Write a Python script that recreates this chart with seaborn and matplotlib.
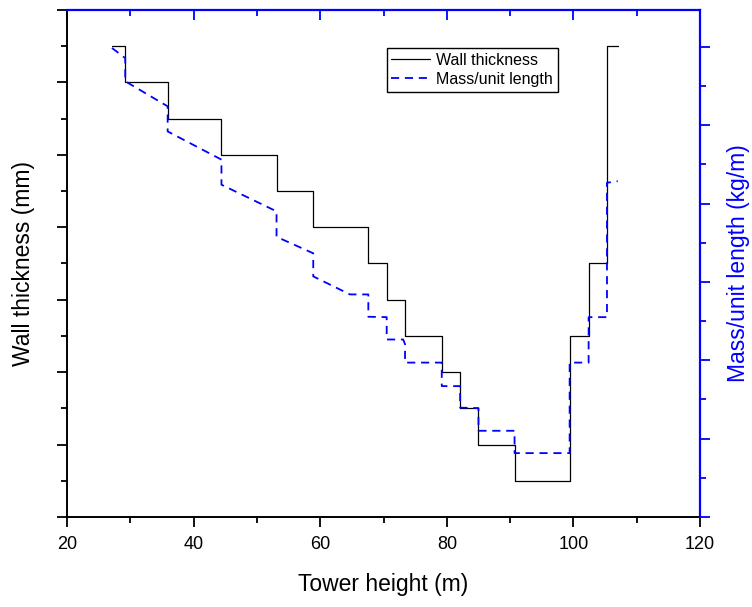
import matplotlib
matplotlib.use('Agg')
import matplotlib.pyplot as plt
from matplotlib.ticker import MultipleLocator, NullFormatter
import seaborn as sns
import pandas as pd

# section boundaries along the tower (m) and wall thickness of each section (mm)
section_edges = [27.1, 29.2, 35.9, 44.4, 53.1, 58.9, 67.6, 70.5, 73.4, 79.2,
                 82.1, 85.0, 90.7, 99.4, 102.4, 105.3, 107.0]
wall_thickness = [34, 32, 30, 28, 26, 24, 22, 20, 18, 16, 14, 12, 10, 18, 22, 34]

# mass per unit length along the tower (kg/m)
mass_height = [27.1, 29.2, 29.2, 35.9, 35.9, 44.4, 44.4, 53.1, 53.1, 58.9,
               58.9, 64.7, 67.6, 67.6, 70.5, 70.5, 73.1, 73.4, 73.4, 79.2,
               79.2, 82.1, 82.1, 85.0, 85.0, 90.7, 90.7, 99.4, 99.4, 102.4,
               102.4, 105.3, 105.3, 107.0]
mass_length = [1597, 1571, 1512, 1448, 1384, 1312, 1248, 1180, 1115, 1073,
               1014, 968, 968, 911, 910, 853, 853, 841, 794, 794,
               734, 734, 679, 678, 620, 620, 563, 563, 794, 794,
               910, 910, 1253, 1257]

sns.set_style('white')
plt.rcParams['font.family'] = ['Liberation Sans', 'DejaVu Sans']
plt.rcParams['text.color'] = 'black'
plt.rcParams['axes.labelcolor'] = 'black'
plt.rcParams['xtick.color'] = 'black'
plt.rcParams['ytick.color'] = 'black'

wall_df = pd.DataFrame({'height': section_edges,
                        'thickness': wall_thickness + [wall_thickness[-1]]})
mass_df = pd.DataFrame({'height': mass_height, 'mass': mass_length})

fig = plt.figure(figsize=(7.52, 6.07), dpi=100)
ax = fig.add_axes([0.0891, 0.1483, 0.8418, 0.8353])
ax2 = ax.twinx()

sns.lineplot(data=wall_df, x='height', y='thickness', ax=ax,
             drawstyle='steps-post', estimator=None, sort=False,
             color='black', linewidth=0.9)
sns.lineplot(data=mass_df, x='height', y='mass', ax=ax2,
             estimator=None, sort=False, color='#0000FF', linewidth=1.3)
ax2.lines[0].set_dashes((4.5, 3.2))

# x axis
ax.set_xlim(20, 120)
ax.xaxis.set_major_locator(MultipleLocator(20))
ax.xaxis.set_minor_locator(MultipleLocator(10))
ax.set_xlabel('Tower height (m)', fontsize=16.5, labelpad=14)

# left axis (no tick labels)
ax.set_ylim(8, 36)
ax.yaxis.set_major_locator(MultipleLocator(4))
ax.yaxis.set_minor_locator(MultipleLocator(2))
ax.yaxis.set_major_formatter(NullFormatter())
ax.set_ylabel('Wall thickness (mm)', fontsize=16.5, labelpad=9)

ax.tick_params(which='both', direction='out', width=1.3, color='black',
               labelcolor='black', left=True, bottom=True, top=False,
               right=False)
ax.tick_params(which='major', length=7, labelsize=13, pad=7)
ax.tick_params(which='minor', length=4)
for side in ['left', 'bottom']:
    ax.spines[side].set_linewidth(1.4)
    ax.spines[side].set_color('black')

# right axis (blue, no tick labels)
ax2.set_ylim(400, 1694)
ax2.yaxis.set_major_locator(MultipleLocator(200))
ax2.yaxis.set_minor_locator(MultipleLocator(100))
ax2.yaxis.set_major_formatter(NullFormatter())
ax2.tick_params(which='both', direction='out', width=1.3, color='#0000FF')
ax2.tick_params(which='major', length=7)
ax2.tick_params(which='minor', length=4)
ax2.set_ylabel('Mass/unit length (kg/m)', fontsize=16.5, color='#0000FF',
               labelpad=9)
ax2.spines['right'].set_color('#0000FF')
ax2.spines['right'].set_linewidth(1.6)
ax2.spines['top'].set_color('#0000FF')
ax2.spines['top'].set_linewidth(1.6)
ax2.spines['left'].set_visible(False)
ax2.spines['bottom'].set_visible(False)
ax.spines['top'].set_visible(False)
ax.spines['right'].set_visible(False)

# blue top axis with inward ticks
top = ax.secondary_xaxis('top')
top.xaxis.set_major_locator(MultipleLocator(20))
top.xaxis.set_minor_locator(MultipleLocator(10))
top.xaxis.set_major_formatter(NullFormatter())
top.tick_params(which='both', direction='in', color='#0000FF', width=1.3)
top.tick_params(which='major', length=7)
top.tick_params(which='minor', length=4)
top.spines['top'].set_visible(False)

leg = ax2.legend([ax.lines[0], ax2.lines[0]],
                 ['Wall thickness', 'Mass/unit length'],
                 loc='upper left', bbox_to_anchor=(0.505, 0.925),
                 borderaxespad=0, fontsize=11.5, fancybox=False,
                 framealpha=1, edgecolor='black', handlelength=2.4,
                 handletextpad=0.4, labelspacing=0.25, borderpad=0.3)
leg.get_frame().set_linewidth(1.0)
for txt in leg.get_texts():
    txt.set_color('black')

fig.savefig('out.png', dpi=100)
